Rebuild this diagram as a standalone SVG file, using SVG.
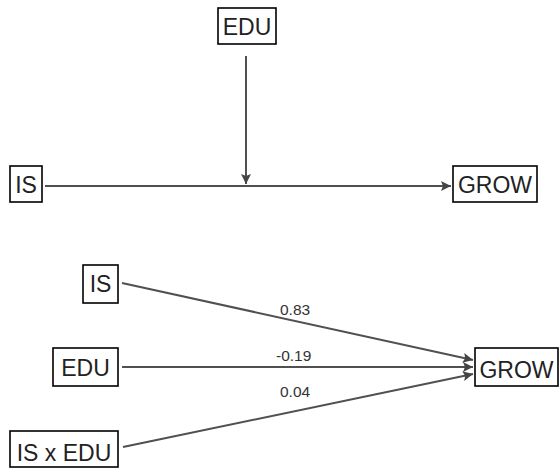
<svg xmlns="http://www.w3.org/2000/svg" width="559" height="468" viewBox="0 0 559 468">
  <style>
    .box { fill: #ffffff; stroke: #000000; stroke-width: 1.6; }
    .lbl { font-family: "Liberation Sans", Arial, sans-serif; font-size: 23px; fill: #222222; }
    .coef { font-family: "Liberation Sans", Arial, sans-serif; font-size: 15.5px; fill: #333333; }
    .path { stroke: #505050; stroke-width: 2; fill: none; marker-end: url(#arrow); }
  </style>
  <defs>
    <marker id="arrow" viewBox="0 0 10 10" refX="10" refY="5" markerWidth="5" markerHeight="5" orient="auto" markerUnits="strokeWidth">
      <path d="M0,0 L10,5 L0,10 L2,5 Z" fill="#444444"/>
    </marker>
  </defs>

  <!-- connectors -->
  <g id="connectors">
    <line class="path" x1="246" y1="56" x2="246" y2="184"/>
    <line class="path" x1="45" y1="186" x2="451" y2="186"/>
    <line class="path" x1="122" y1="283" x2="473" y2="360"/>
    <line class="path" x1="122" y1="367" x2="473" y2="367"/>
    <line class="path" x1="123" y1="447" x2="473" y2="374"/>
    <text class="coef" x="280" y="315">0.83</text>
    <text class="coef" x="276" y="361">-0.19</text>
    <text class="coef" x="280" y="397">0.04</text>
  </g>

  <!-- moderation model -->
  <g id="node-edu-top">
    <rect class="box" x="218" y="8" width="58" height="36"/>
    <text class="lbl" x="247" y="35" text-anchor="middle">EDU</text>
  </g>
  <g id="node-is-top">
    <rect class="box" x="10" y="166" width="32" height="36"/>
    <text class="lbl" x="26" y="193" text-anchor="middle">IS</text>
  </g>
  <g id="node-grow-top">
    <rect class="box" x="453" y="166" width="84" height="36"/>
    <text class="lbl" x="495" y="193" text-anchor="middle">GROW</text>
  </g>

  <!-- regression model -->
  <g id="node-is">
    <rect class="box" x="83" y="265" width="35" height="38"/>
    <text class="lbl" x="100.5" y="292" text-anchor="middle">IS</text>
  </g>
  <g id="node-edu">
    <rect class="box" x="53" y="348" width="65" height="38"/>
    <text class="lbl" x="85.5" y="376" text-anchor="middle">EDU</text>
  </g>
  <g id="node-isxedu">
    <rect class="box" x="10" y="431" width="108" height="36"/>
    <text class="lbl" x="64" y="461" text-anchor="middle">IS x EDU</text>
  </g>
  <g id="node-grow">
    <rect class="box" x="475" y="348" width="83" height="38"/>
    <text class="lbl" x="516.5" y="378" text-anchor="middle">GROW</text>
  </g>
</svg>
